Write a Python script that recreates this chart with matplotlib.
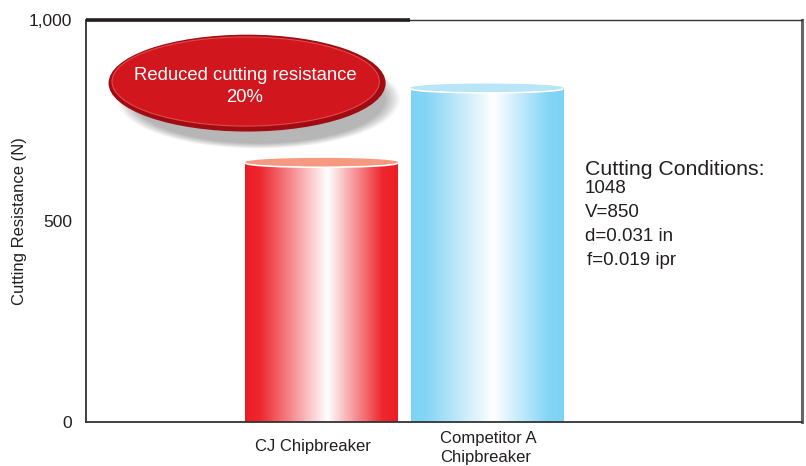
import numpy as np
import matplotlib
matplotlib.use('Agg')
from matplotlib import pyplot as plt
from matplotlib.patches import Ellipse
from matplotlib.colors import to_rgb
import matplotlib.transforms as mtransforms

plt.rcParams['font.family'] = ['Liberation Sans', 'DejaVu Sans']

#### D A T A ####
categories = ['CJ Chipbreaker', 'Competitor A\nChipbreaker']
resistance = [645, 830]
yticks = [0, 500, 1000]
ytick_labels = ['0', '500', '1,000']
conditions = ['1048', 'V=850', 'd=0.031 in', 'f=0.019 ipr']
callout = 'Reduced cutting resistance\n20%'

edge_colors = ['#ed1c24', '#7dd3f5']
top_colors = ['#f59a80', '#b9e5f8']
txt = '#231f20'

fig = plt.figure(figsize=(8.06, 4.66), dpi=100)
ax = fig.add_axes([86 / 806, 44 / 466, 716 / 806, 402 / 466])
ax.set_xlim(-1.423, 2.903)
ax.set_ylim(0, 1000)

x = np.arange(len(categories))
bw = 0.924
bars = ax.bar(x, resistance, width=bw, color='none', edgecolor='none')

# cylinder look: horizontal gradient clipped to each bar + lighter top ellipse
t = np.linspace(0, 1, 300)
wht = np.interp(t, [0, 0.1, 0.54, 0.9, 1], [0, 0.05, 1, 0.05, 0])
for i, b in enumerate(bars):
    c = np.array(to_rgb(edge_colors[i]))
    grad = c[None, :] * (1 - wht[:, None]) + wht[:, None]
    img = ax.imshow(grad[None, :, :], aspect='auto', interpolation='bilinear',
                    extent=[x[i] - bw / 2, x[i] + bw / 2, 0, resistance[i]], zorder=2)
    img.set_clip_path(b)
    ax.add_patch(Ellipse((x[i], resistance[i]), bw, 22, facecolor=top_colors[i],
                         edgecolor='none', zorder=3))
    ax.add_patch(Ellipse((x[i], resistance[i] - 1), bw * 0.99, 20, facecolor='none',
                         edgecolor='white', lw=1.3, zorder=3))
    ax.add_patch(Ellipse((x[i], resistance[i] + 1.5), bw, 21, facecolor=top_colors[i],
                         edgecolor='none', zorder=3))

ax.set_xlim(-1.423, 2.903)
ax.set_ylim(0, 1000)

# category labels
trans = mtransforms.blended_transform_factory(ax.transData, ax.transAxes)
ax.text(-0.05, -0.062, categories[0], transform=trans, ha='center', va='center',
        fontsize=12, color=txt)
ax.text(0.716, -0.065, categories[1], transform=trans, ha='left', va='center',
        fontsize=12, color=txt, linespacing=1.3)
ax.set_xticks([])

ax.set_yticks(yticks)
ax.set_yticklabels(ytick_labels, fontsize=12.5, color=txt)
ax.tick_params(axis='y', length=0, pad=10)
ax.set_ylabel('Cutting Resistance (N)', fontsize=12, color=txt)
ax.yaxis.set_label_coords(-0.083, 0.5)

# frame
for s in ['left', 'bottom']:
    ax.spines[s].set_color('#333333')
    ax.spines[s].set_linewidth(1.3)
ax.spines['right'].set_color('#666666')
ax.spines['right'].set_linewidth(2.2)
ax.spines['top'].set_color('#333333')
ax.spines['top'].set_linewidth(1.0)
ax.plot([0, 0.4525], [1, 1], transform=ax.transAxes, color='#231f20', lw=2.6,
        clip_on=False, zorder=5, solid_capstyle='butt')

# callout bubble with soft shadow
cx, cy, ew, eh = 0.225, 0.843, 0.387, 0.241
for k in range(10):
    g = 1.02 - k * 0.012
    ax.add_patch(Ellipse((cx + 0.016, cy - 0.04), ew * g, eh * g,
                         transform=ax.transAxes, facecolor='#000000', alpha=0.03,
                         edgecolor='none', zorder=6))
ax.add_patch(Ellipse((cx, cy), ew, eh, transform=ax.transAxes, facecolor='#a10c12',
                     edgecolor='none', zorder=7))
ax.add_patch(Ellipse((cx - 0.002, cy + 0.004), ew * 0.965, eh * 0.92, transform=ax.transAxes,
                     facecolor='#d1161e', edgecolor='#e04a4a', lw=0.8, zorder=8))
ax.text(cx - 0.003, cy - 0.008, callout, transform=ax.transAxes, ha='center', va='center',
        fontsize=13.3, color='white', zorder=9, linespacing=1.35)

# cutting conditions
ax.text(0.697, 0.629, 'Cutting Conditions:', transform=ax.transAxes, ha='left', va='center',
        fontsize=15.3, color=txt)
for j, line in enumerate(conditions):
    ax.text(0.697 + (0.003 if j == 3 else 0), 0.582 - j * 0.0597, line,
            transform=ax.transAxes, ha='left', va='center', fontsize=13.5, color=txt)

plt.savefig('out.png', dpi=100)
